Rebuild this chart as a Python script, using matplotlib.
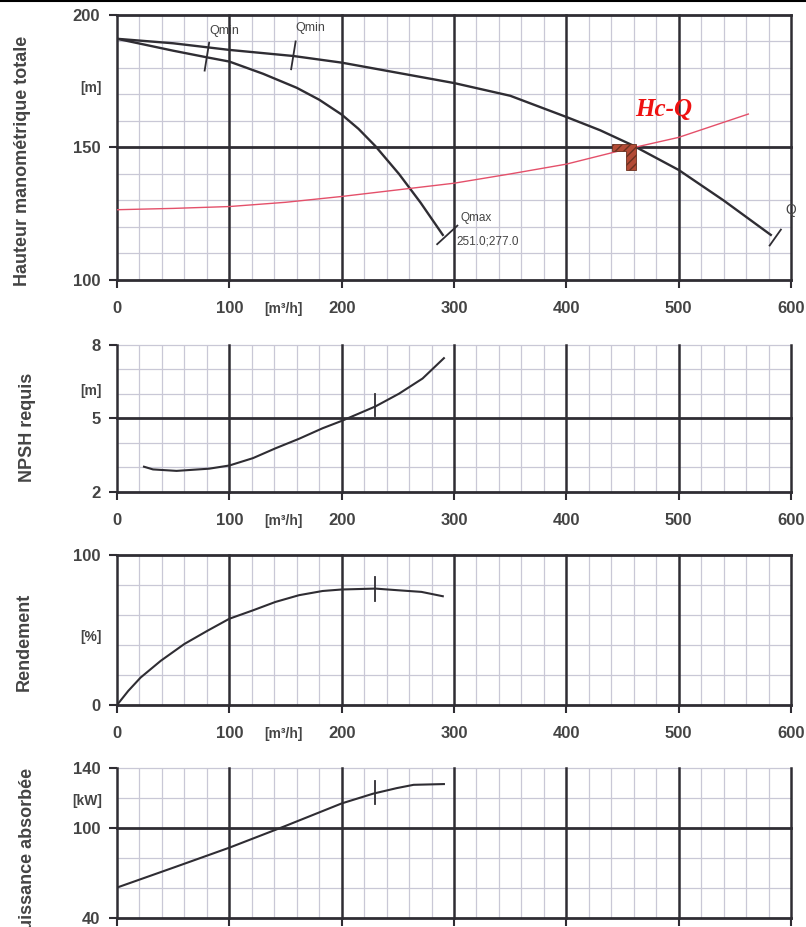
import matplotlib
matplotlib.use('Agg')
import matplotlib.pyplot as plt
import numpy as np
from matplotlib.lines import Line2D
from matplotlib.patches import Polygon

plt.rcParams['font.family'] = ['Liberation Sans', 'DejaVu Sans']

# debit [m3/h] and curves
q_h1 = [0, 50, 100, 157, 200, 252, 300, 350, 400, 430, 459, 500, 540, 582]
h1 = [191, 189.3, 186.8, 184.5, 182, 178, 174.3, 169.5, 161.5, 156.5, 150.8, 141.5, 130, 117]
q_h2 = [0, 50, 80, 100, 130, 160, 180, 200, 215, 230, 251, 270, 290]
h2 = [191, 186.5, 184, 182.4, 177.8, 172.5, 168, 162.4, 157, 150.5, 140, 129.3, 117]
q_hc = [0, 50, 100, 150, 200, 250, 300, 350, 400, 450, 500, 562]
hc = [126.5, 127, 127.7, 129.3, 131.5, 134, 136.5, 140, 143.7, 149, 153.8, 162.6]

q_npsh = [24, 32, 53, 82, 100, 121, 141, 162, 183, 200, 230, 251, 272, 291]
npsh = [3.03, 2.92, 2.86, 2.95, 3.08, 3.38, 3.78, 4.17, 4.6, 4.9, 5.49, 6.01, 6.63, 7.46]
q_eta = [0, 10, 21, 39, 60, 81, 100, 121, 141, 162, 183, 200, 230, 250, 271, 290]
eta = [0, 9.4, 18.3, 29.5, 40.7, 49.7, 57.5, 63.1, 68.7, 73.2, 76, 77, 77.6, 76.5, 75.4, 72.5]
q_p = [0, 51, 100, 149, 200, 228, 249, 264, 291]
p_abs = [60.3, 73.8, 86.9, 101.1, 116.4, 122.9, 126.6, 128.8, 129.3]

q_min = [80, 157]        # Qmin marks (lower curve, upper curve)
q_nominal = 230          # vertical marks on NPSH / eta / P
op_point = (455, 150.5)  # Hc-Q intersection

dark = '#2f2d33'
light = '#c9c8d6'
txt = '#444444'

fig = plt.figure(figsize=(8.06, 9.27), dpi=100)
L, W = 0.1452, 0.8362


def setup(ax, ylim, yticks, ydark, ylight, unit, unit_y, xlabels=True):
    ax.set_xlim(0, 600)
    ax.set_ylim(*ylim)
    for s in ax.spines.values():
        s.set_visible(False)
    for x in range(20, 600, 20):
        if x % 100:
            ax.axvline(x, color=light, lw=0.9, zorder=0)
    for y in ylight:
        ax.axhline(y, color=light, lw=0.9, zorder=0, clip_on=False)
    for x in range(0, 601, 100):
        ax.axvline(x, color=dark, lw=1.8, zorder=1, clip_on=False)
    for y in ydark:
        ax.axhline(y, color=dark, lw=2.0, zorder=1, clip_on=False)
    ax.set_xticks(range(0, 601, 100))
    ax.set_yticks(yticks)
    ax.tick_params(direction='out', length=6, width=1.5, color=dark,
                   labelsize=12, labelcolor=txt)
    ax.tick_params(axis='x', pad=9, labelbottom=xlabels)
    ax.tick_params(axis='y', pad=6)
    for lbl in ax.get_xticklabels() + ax.get_yticklabels():
        lbl.set_fontweight('bold')
    if xlabels:
        ax.annotate('[m³/h]', xy=(148, 0), xycoords=('data', 'axes fraction'),
                    xytext=(0, -21), textcoords='offset points', ha='center',
                    va='center', fontsize=10, fontweight='bold', color=txt)
    ax.annotate(unit, xy=(0, unit_y), xycoords=('axes fraction', 'data'),
                xytext=(-11, 0), textcoords='offset points', ha='right',
                va='center', fontsize=10, fontweight='bold', color=txt)


# --- Hauteur ---
ax1 = fig.add_axes([L, 0.6980, W, 0.2859])
setup(ax1, (100, 200), [100, 150, 200], [100, 150, 200],
      [110, 120, 130, 140, 160, 170, 180, 190], '[m]', 172.5)
ax1.plot(q_h1, h1, color=dark, lw=1.7, zorder=3)
ax1.plot(q_h2, h2, color=dark, lw=1.7, zorder=3)
ax1.plot(q_hc, hc, color='#e4506a', lw=1.0, zorder=4)

for qm, qc, hcur in zip(q_min, [q_h2, q_h1], [h2, h1]):
    hm = np.interp(qm, qc, hcur)
    ax1.plot([qm - 2, qm + 2], [hm - 5, hm + 5.5], color=dark, lw=1.3, zorder=3)
ax1.text(q_min[0] + 2, 194, 'Qmin', fontsize=9, color=txt, va='center')
ax1.text(q_min[1] + 2, 195, 'Qmin', fontsize=9, color=txt, va='center')

qx, hx = q_h2[-1], h2[-1]
ax1.plot([qx - 5, qx + 13], [hx - 3.5, hx + 3.5], color=dark, lw=1.3, zorder=3)
ax1.text(qx + 16, hx + 6.5, 'Qmax', fontsize=8.5, color=txt, va='center')
ax1.text(qx + 12, hx - 2.5, '251.0;277.0', fontsize=8.5, color=txt, va='center')

qe, he = q_h1[-1], h1[-1]
ax1.plot([qe - 1, qe + 9], [he - 4, he + 2], color=dark, lw=1.3, zorder=3)
ax1.text(qe + 13, he + 9.5, 'Q', fontsize=10, color=txt, va='center')

ox, oy = op_point
ax1.add_patch(Polygon([(ox - 14, oy + 0.8), (ox + 7, oy + 0.8), (ox + 7, oy - 9),
                       (ox - 2, oy - 9), (ox - 2, oy - 2), (ox - 14, oy - 2)],
                      closed=True, facecolor='#b34a35', edgecolor='#6a3020',
                      hatch='////', lw=0.6, zorder=5))
ax1.text(461, 164.5, 'Hc-Q', fontsize=18, color='#ee1111', fontweight='bold',
         fontstyle='italic', family='Liberation Serif', va='center', zorder=6)

# --- NPSH ---
ax2 = fig.add_axes([L, 0.4693, W, 0.1586])
setup(ax2, (2, 8), [2, 5, 8], [2, 5], [3, 4, 6, 7, 8], '[m]', 6.1)
ax2.plot(q_npsh, npsh, color=dark, lw=1.5, zorder=3)
v = np.interp(q_nominal, q_npsh, npsh)
ax2.plot([q_nominal, q_nominal], [v - 0.4, v + 0.5], color=dark, lw=1.3, zorder=3)

# --- Rendement ---
ax3 = fig.add_axes([L, 0.2395, W, 0.1618])
setup(ax3, (0, 100), [0, 100], [0, 100], [20, 40, 60, 80], '[%]', 45)
ax3.plot(q_eta, eta, color=dark, lw=1.5, zorder=3)
v = np.interp(q_nominal, q_eta, eta)
ax3.plot([q_nominal, q_nominal], [v - 8.5, v + 8], color=dark, lw=1.3, zorder=3)

# --- Puissance ---
ax4 = fig.add_axes([L, 0.0097, W, 0.1618])
setup(ax4, (40, 140), [40, 100, 140], [40, 100], [60, 80, 120, 140], '[kW]', 118,
      xlabels=False)
ax4.plot(q_p, p_abs, color=dark, lw=1.5, zorder=3)
v = np.interp(q_nominal, q_p, p_abs)
ax4.plot([q_nominal, q_nominal], [v - 7.5, v + 8], color=dark, lw=1.3, zorder=3)

# y labels
lab = dict(rotation=90, fontsize=13, fontweight='bold', color=txt, ha='center')
fig.text(0.0285, 0.826, 'Hauteur manométrique totale', va='center', **lab)
fig.text(0.0335, 0.5388, 'NPSH requis', va='center', **lab)
fig.text(0.030, 0.308, 'Rendement', va='center', **lab)
fig.text(0.0335, 0.1715, 'Puissance absorbée', va='top', **lab)

fig.add_artist(Line2D([0, 1], [0.9985, 0.9985], color='black', lw=1.5))

fig.savefig('out.png', dpi=100)
